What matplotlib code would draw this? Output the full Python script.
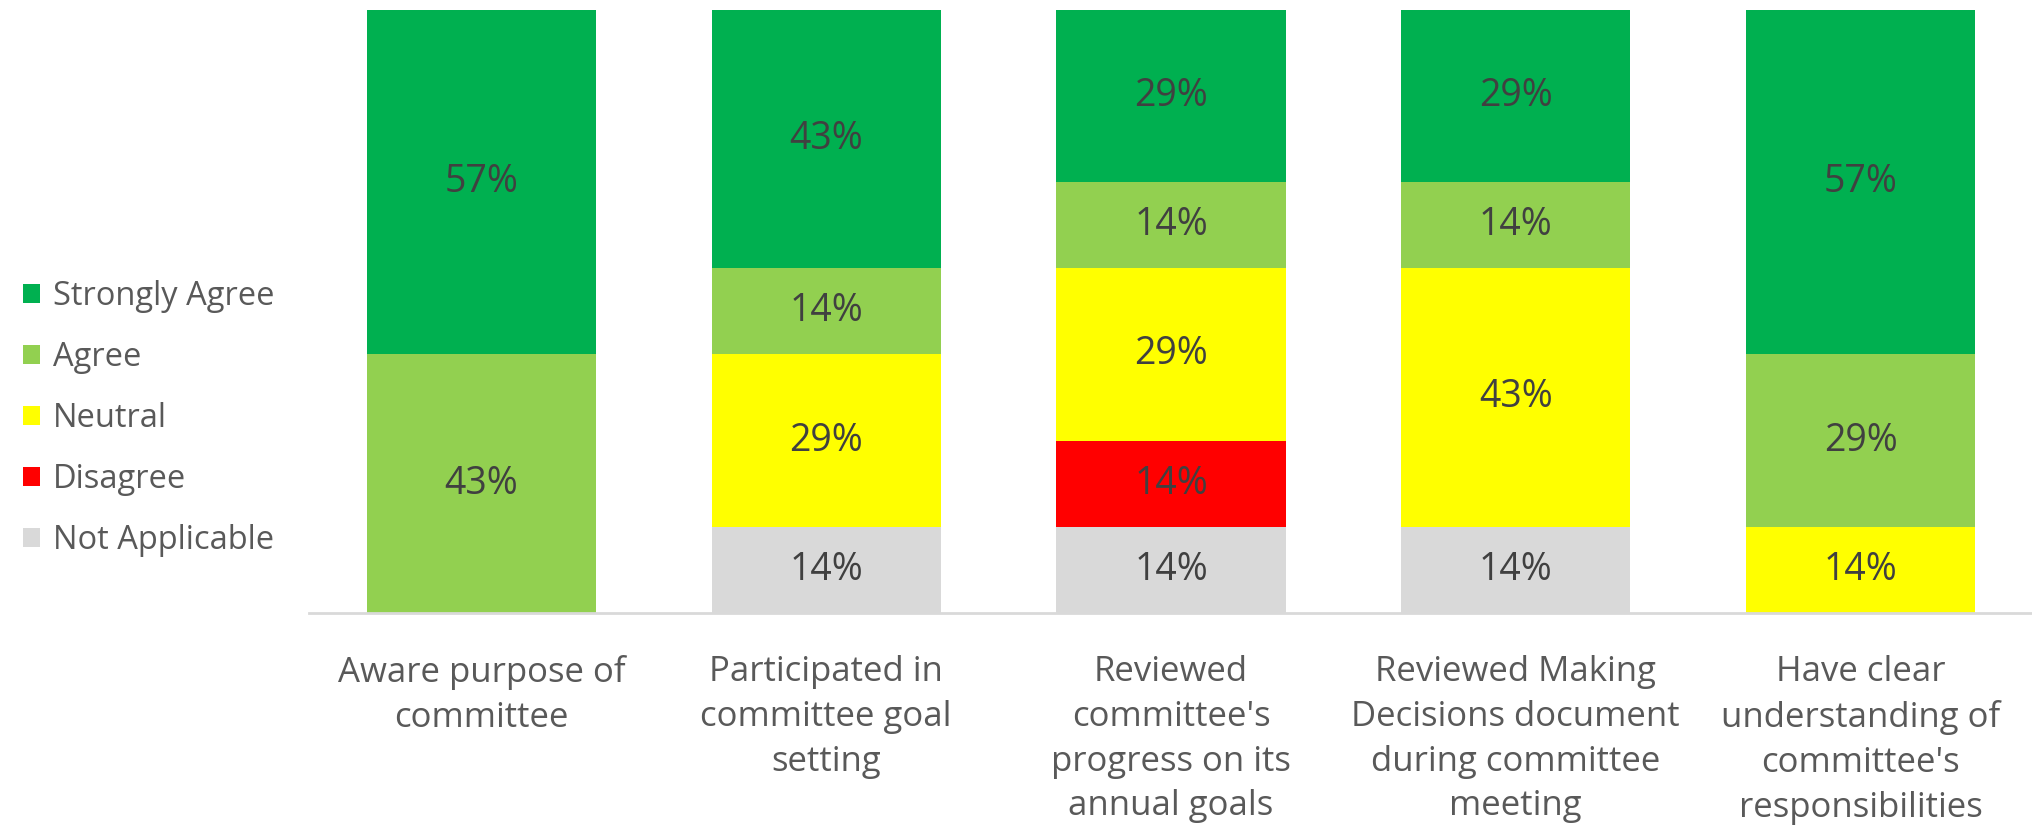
import matplotlib
matplotlib.use("Agg")
import matplotlib.pyplot as plt
import numpy as np

plt.rcParams.update({"font.family": ["Open Sans", "DejaVu Sans"]})

CATS = ["Aware purpose of\ncommittee",
        "Participated in\ncommittee goal\nsetting",
        "Reviewed\ncommittee's\nprogress on its\nannual goals",
        "Reviewed Making\nDecisions document\nduring committee\nmeeting",
        "Have clear\nunderstanding of\ncommittee's\nresponsibilities"]

# stacked bottom -> top
SERIES = ["Not Applicable", "Disagree", "Neutral", "Agree", "Strongly Agree"]
not_applicable = [0, 14.3, 14.3, 14.3, 0]
disagree = [0, 0, 14.3, 0, 0]
neutral = [0, 28.6, 28.6, 42.9, 14.3]
agree = [42.9, 14.3, 14.3, 14.3, 28.6]
strongly_agree = [57.1, 42.9, 28.6, 28.6, 57.1]
VALUES = [not_applicable, disagree, neutral, agree, strongly_agree]
COLORS = ["#D9D9D9", "#FF0000", "#FFFF00", "#92D050", "#00B050"]

fig = plt.figure(figsize=(20.33, 8.32), dpi=100)
ax = fig.add_axes([309 / 2033, 219 / 832, 1 - 309 / 2033, (613 - 10) / 832])

x = np.arange(len(CATS))
bottom = np.zeros(len(CATS))
handles = []
for name, vals, col in zip(SERIES, VALUES, COLORS):
    vals = np.array(vals, dtype=float)
    bars = ax.bar(x, vals, width=0.665, bottom=bottom, color=col, label=name)
    handles.append(bars)
    for xi, b, v in zip(x, bottom, vals):
        if v > 0:
            ax.text(xi, b + v / 2, f"{v:.0f}%", ha="center", va="center",
                    fontsize=27, color="#404040")
    bottom += vals

ax.set_xlim(-0.5, len(CATS) - 0.5)
ax.set_ylim(0, 100)
ax.set_yticks([])
for s in ["top", "right", "left"]:
    ax.spines[s].set_visible(False)
ax.spines["bottom"].set_color("#D9D9D9")
ax.spines["bottom"].set_linewidth(2)
ax.set_xticks(x)
ax.set_xticklabels(CATS, fontsize=25, color="#595959", linespacing=1.42)
ax.tick_params(axis="x", length=0, pad=30)

fig.legend(handles[::-1], SERIES[::-1], loc="center left", bbox_to_anchor=(0.0, 0.497),
           frameon=False, fontsize=23.5, labelcolor="#595959", handlelength=0.52,
           handleheight=0.52, handletextpad=0.4, labelspacing=0.86, borderaxespad=0.3)

fig.savefig("out.png", dpi=100)
